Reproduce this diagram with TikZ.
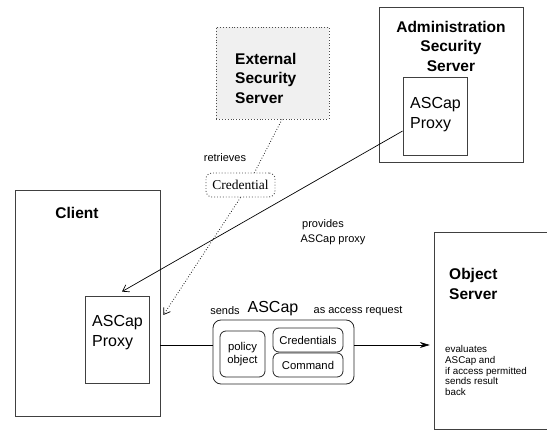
\documentclass[tikz,border=0pt]{standalone}
\usepackage{fontspec}
\setmainfont{Liberation Sans}
\newfontfamily\serifface{Liberation Serif}
\usetikzlibrary{arrows.meta,calc}

\tikzset{
  frame/.style={draw=black!75, line width=0.8pt, inner sep=0pt},
  part/.style={draw=black!85, line width=0.8pt, rounded corners=6pt, inner sep=0pt},
  label/.style={inner sep=0pt, align=left},
  titlefont/.style={font=\fontsize{15.5}{19.5}\selectfont\bfseries},
  proxyfont/.style={font=\fontsize{16}{20}\selectfont},
  smallfont/.style={font=\fontsize{11}{13}\selectfont},
  tinyfont/.style={font=\fontsize{9.8}{10.9}\selectfont},
  link/.style={line width=0.7pt, black},
  barb/.style={-{Straight Barb[length=6pt,width=8pt,line width=0.7pt]}},
}

\begin{document}
\begin{tikzpicture}[x=1pt, y=-1pt]
\useasboundingbox (0,0) rectangle (547,430);
\clip (0,0) rectangle (547,430);

% Administration Security Server with its proxy
\node[frame, minimum width=144pt, minimum height=155pt] (admin) at (451,84.5) {};
\node[frame, minimum width=64pt, minimum height=78pt] (adminproxy) at (435,116) {};
\node[label, titlefont, align=center] (admintitle) at (451,46) {Administration\\Security\\Server};
\node[label, proxyfont, anchor=west] (adminproxytext) at (410,115) {ASCap\\Proxy};

% External Security Server
\node[draw=black!70, dotted, line width=0.9pt, fill=black!6, minimum width=113pt, minimum height=92pt, inner sep=0pt] (ext) at (272.5,73) {};
\node[label, titlefont, anchor=west] (exttitle) at (235,78) {External\\Security\\Server};

% Credential token
\node[draw=black!70, dotted, line width=0.9pt, rounded corners=6pt, minimum width=69pt, minimum height=24pt, inner sep=0pt,
      font=\serifface\fontsize{13.5}{16}\selectfont] (cred) at (240.5,185) {Credential};
\node[label, smallfont] (retr) at (225,158) {retrieves};

% Client with its proxy
\node[frame, minimum width=145pt, minimum height=226pt] (client) at (87.5,303) {};
\node[frame, minimum width=64pt, minimum height=87pt] (clientproxy) at (117,339.5) {};
\node[label, titlefont] (clienttitle) at (77,213) {Client};
\node[label, proxyfont, anchor=west] (clientproxytext) at (92,333) {ASCap\\Proxy};

% ASCap capability
\node[part, rounded corners=8pt, minimum width=141pt, minimum height=64pt] (ascap) at (283.5,352) {};
\node[part, minimum width=45pt, minimum height=46pt, align=center,
      font=\fontsize{11.3}{13}\selectfont] (policy) at (242.5,354) {policy\\object};
\node[part, minimum width=70pt, minimum height=24pt,
      font=\fontsize{11.3}{13}\selectfont] (creds) at (308,340) {Credentials};
\node[part, minimum width=70pt, minimum height=24pt,
      font=\fontsize{11.3}{13}\selectfont] (cmd) at (308,365) {Command};
\node[label, smallfont] (sends) at (225,311) {sends};
\node[label, proxyfont] (ascapword) at (273,309) {ASCap};
\node[label, smallfont] (asreq) at (358,311) {as access request};

% Object Server (runs past the right and bottom edges)
\node[minimum width=130pt, minimum height=196pt, inner sep=0pt] (objsrv) at (500,331) {};
\draw[frame] (objsrv.north east) -- (objsrv.north west) -- (objsrv.south west) -- (objsrv.south east);
\node[label, titlefont, anchor=west] (objtitle) at (449,284) {Object\\Server};
\node[label, tinyfont, anchor=west] (objtext) at (445,370.5)
  {evaluates\\ASCap and\\if access permitted\\sends result\\back};

% provides label
\node[label, smallfont] (prov1) at (323,225) {provides};
\node[label, smallfont] (prov2) at (333,240) {ASCap proxy};

% Connectors
\draw[link, barb] ([yshift=-15pt]adminproxy.west) -- ([xshift=5pt,yshift=4pt]clientproxy.north);
\draw[link, dotted, line width=0.8pt] ([xshift=9.5pt]ext.south) -- ([xshift=14pt]cred.north);
\draw[link, dotted, line width=0.8pt, barb] (cred.south) -- ([xshift=3pt,yshift=-12pt]client.east);
\draw[link] ($(client.east |- ascap.west)+(0,7pt)$) -- ($(ascap.west)+(0,7pt)$);
\draw[link, -{Stealth[length=10pt,width=6pt]}] ($(ascap.east)+(0,7pt)$) -- ($(ascap.east -| objsrv.west)+(-5pt,7pt)$);
\end{tikzpicture}
\end{document}
